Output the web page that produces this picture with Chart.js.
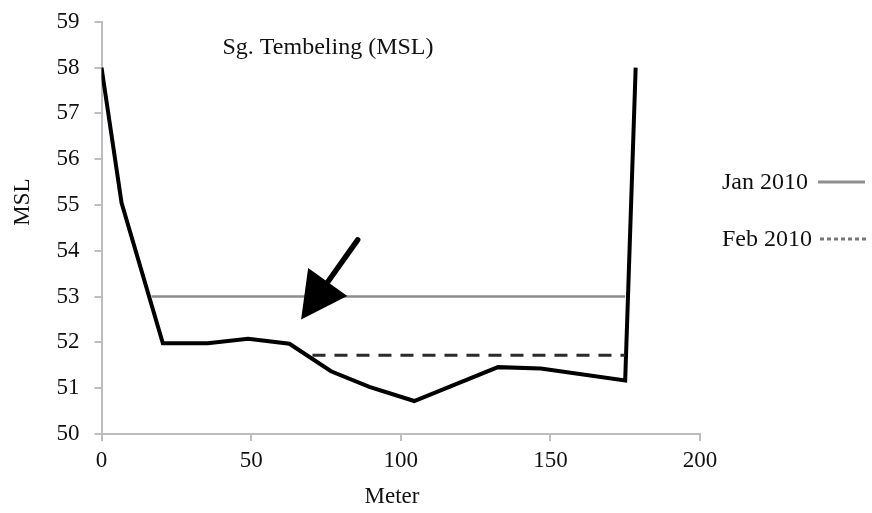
<!DOCTYPE html>
<html>
<head>
<meta charset="utf-8">
<script src="https://cdn.jsdelivr.net/npm/chart.js@4/dist/chart.umd.min.js"></script>
<style>
  body { margin: 0; background: #fff; }
  #wrap { width: 872px; height: 513px; overflow: hidden; }
  #chart { display: block; margin-top: -7px; }
</style>
</head>
<body>
<div id="wrap"><canvas id="chart" width="872" height="520"></canvas></div>
<script>
// Bed profile (Meter vs MSL)
const bedX = [0, 6.7, 20.5, 35.5, 49, 62.8, 76.7, 89.5, 104.5, 132.5, 146.8, 175, 178.5];
const bedY = [58, 55.05, 51.98, 51.98, 52.08, 51.97, 51.37, 51.03, 50.72, 51.46, 51.43, 51.17, 58];

// Water levels
const janX = [16.7, 175];
const janY = [53.0, 53.0];
const febX = [70.5, 175];
const febY = [51.72, 51.72];

// Arrow annotation, in data units: tail then tip
const arrowX = [85.6, 66.7];
const arrowY = [54.24, 52.5];

const seriesNames = ['Jan 2010', 'Feb 2010'];
const titleText = 'Sg. Tembeling (MSL)';
const xTitle = 'Meter';
const yTitle = 'MSL';

const serif = "'Liberation Serif', 'Times New Roman', serif";
const axisColor = '#bfbbc3';
const shift = 7; // canvas is moved up by this much on the page

function pts(xs, ys) {
  return xs.map((x, i) => ({ x: x, y: ys[i] }));
}

// Text, legend and arrow drawn on top
const extras = {
  id: 'extras',
  afterDatasetsDraw(chart) {
    const ctx = chart.ctx;
    const xs = chart.scales.x;
    const ys = chart.scales.y;
    ctx.save();
    ctx.translate(0, shift);
    ctx.fillStyle = '#111';
    ctx.font = '24px ' + serif;
    ctx.textAlign = 'center';
    ctx.textBaseline = 'middle';
    ctx.fillText(titleText, 328, 48);

    ctx.font = '23px ' + serif;
    ctx.fillText(xTitle, 392, 497);
    ctx.save();
    ctx.translate(23, 202);
    ctx.rotate(-Math.PI / 2);
    ctx.fillText(yTitle, 0, 0);
    ctx.restore();

    // legend
    ctx.font = '24px ' + serif;
    ctx.textAlign = 'right';
    ctx.fillText(seriesNames[0], 808, 183);
    ctx.fillText(seriesNames[1], 812, 240);
    ctx.lineWidth = 3;
    ctx.strokeStyle = '#8e8e8e';
    ctx.beginPath();
    ctx.moveTo(818, 182);
    ctx.lineTo(865, 182);
    ctx.stroke();
    ctx.strokeStyle = '#777';
    ctx.setLineDash([4, 3]);
    ctx.beginPath();
    ctx.moveTo(820, 239);
    ctx.lineTo(868, 239);
    ctx.stroke();
    ctx.setLineDash([]);
    ctx.restore();

    // arrow
    const x0 = xs.getPixelForValue(arrowX[0]), y0 = ys.getPixelForValue(arrowY[0]);
    const x1 = xs.getPixelForValue(arrowX[1]), y1 = ys.getPixelForValue(arrowY[1]);
    const ang = Math.atan2(y1 - y0, x1 - x0);
    const headLen = 46, headW = 24;
    const bx = x1 - headLen * Math.cos(ang), by = y1 - headLen * Math.sin(ang);
    ctx.save();
    ctx.strokeStyle = '#000';
    ctx.fillStyle = '#000';
    ctx.lineWidth = 5.5;
    ctx.lineCap = 'round';
    ctx.beginPath();
    ctx.moveTo(x0, y0);
    ctx.lineTo(bx, by);
    ctx.stroke();
    ctx.beginPath();
    ctx.moveTo(x1, y1);
    ctx.lineTo(bx + headW * Math.sin(ang), by - headW * Math.cos(ang));
    ctx.lineTo(bx - headW * Math.sin(ang), by + headW * Math.cos(ang));
    ctx.closePath();
    ctx.fill();
    ctx.restore();
  }
};

new Chart(document.getElementById('chart'), {
  type: 'line',
  data: {
    datasets: [
      { label: seriesNames[0], data: pts(janX, janY), borderColor: '#8c8c8c', borderWidth: 2.5, pointRadius: 0 },
      { label: seriesNames[1], data: pts(febX, febY), borderColor: '#2b2b2b', borderWidth: 3, borderDash: [13, 9], pointRadius: 0 },
      { label: 'Bed', data: pts(bedX, bedY), borderColor: '#000', borderWidth: 4, pointRadius: 0, borderJoinStyle: 'miter' }
    ]
  },
  options: {
    responsive: false,
    animation: false,
    layout: { padding: { left: 0, top: 13, right: 172, bottom: 0 } },
    plugins: { legend: { display: false }, tooltip: { enabled: false } },
    scales: {
      x: {
        type: 'linear', min: 0, max: 200,
        ticks: { stepSize: 50, color: '#111', font: { family: serif, size: 23 }, padding: 6, maxRotation: 0 },
        grid: { drawOnChartArea: false, drawTicks: true, tickLength: 7, color: axisColor, lineWidth: 2 },
        border: { color: axisColor, width: 2 },
        afterFit(scale) { scale.height = 79; }
      },
      y: {
        min: 50, max: 59,
        ticks: { stepSize: 1, color: '#111', font: { family: serif, size: 23 }, padding: 15 },
        grid: { drawOnChartArea: false, drawTicks: true, tickLength: 7, color: axisColor, lineWidth: 2 },
        border: { color: axisColor, width: 2 },
        afterFit(scale) { scale.width = 101.5; }
      }
    }
  },
  plugins: [extras]
});
</script>
</body>
</html>
